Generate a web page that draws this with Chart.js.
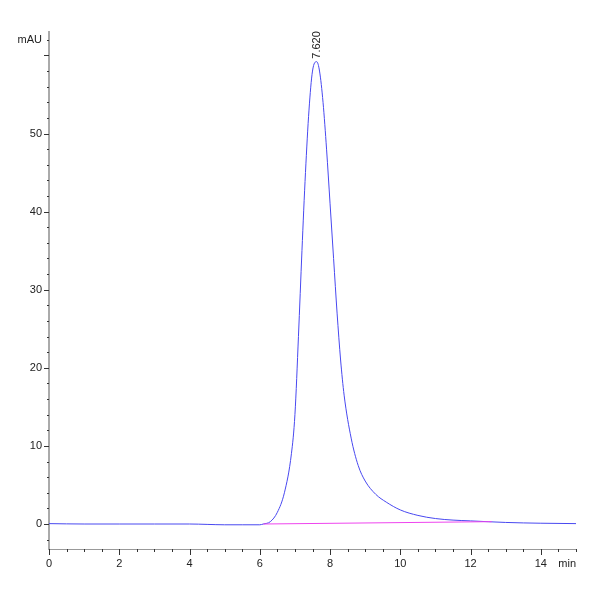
<!DOCTYPE html>
<html>
<head>
<meta charset="utf-8">
<script src="https://cdn.jsdelivr.net/npm/chart.js@4"></script>
<style>
  html, body { margin: 0; padding: 0; background: #fff; }
  #wrap { width: 600px; height: 600px; }
</style>
</head>
<body>
<div id="wrap"><canvas id="chart"></canvas></div>
<script>
// signal trace (min, mAU)
const signalTime = [0, 1, 2, 3, 4, 4.5, 5, 5.5, 6, 6.1, 6.3, 6.5, 6.7, 6.9, 7.0, 7.1, 7.2, 7.3, 7.4, 7.5, 7.62, 7.7, 7.8, 7.9, 8.0, 8.1, 8.2, 8.3, 8.4, 8.6, 8.8, 9.0, 9.3, 9.6, 10, 10.5, 11, 11.5, 12, 13, 14, 15];
const signalValue = [0.05, 0.0, 0.0, 0.0, 0.0, -0.05, -0.1, -0.1, -0.1, 0.0, 0.3, 1.5, 4, 9, 14, 24, 35, 45, 53, 58, 59.2, 58, 54, 48, 41, 34, 27, 21, 16.5, 11, 7.5, 5.5, 3.8, 2.8, 1.8, 1.1, 0.7, 0.5, 0.4, 0.2, 0.1, 0.05];
// integration baseline
const baseTime = [6.1, 12.6];
const baseValue = [0.0, 0.3];
const peakTime = 7.62;
const peakHeight = 59.2;
const peakLabel = '7.620';
const yLabels = [0, 10, 20, 30, 40, 50];
const xLabels = [0, 2, 4, 6, 8, 10, 12, 14];

const font = "'Liberation Sans Narrow', 'Liberation Sans', Arial, sans-serif";

const decorations = {
  id: 'decorations',
  afterDraw(chart) {
    const { ctx, scales: { x, y }, chartArea } = chart;
    ctx.save();
    ctx.strokeStyle = '#333';
    ctx.lineWidth = 1;
    // x ticks every 0.5 min
    for (let t = 0; t <= 15.001; t += 0.5) {
      const px = Math.round(x.getPixelForValue(t)) + 0.5;
      const len = Number.isInteger(t / 2) ? 6 : 3;
      ctx.beginPath();
      ctx.moveTo(px, chartArea.bottom);
      ctx.lineTo(px, chartArea.bottom + len);
      ctx.stroke();
    }
    // y ticks every 2 mAU
    for (let v = -2; v <= 62; v += 2) {
      const py = Math.round(y.getPixelForValue(v)) + 0.5;
      const len = v % 10 === 0 ? 5 : 2;
      ctx.beginPath();
      ctx.moveTo(chartArea.left - len, py);
      ctx.lineTo(chartArea.left, py);
      ctx.stroke();
    }
    ctx.fillStyle = '#222';
    ctx.font = '11px ' + font;
    ctx.textAlign = 'right';
    ctx.textBaseline = 'middle';
    yLabels.forEach(v => ctx.fillText(String(v), chartArea.left - 7, y.getPixelForValue(v)));
    ctx.fillText('mAU', chartArea.left - 7, y.getPixelForValue(62));
    ctx.textAlign = 'center';
    ctx.textBaseline = 'top';
    xLabels.forEach(v => ctx.fillText(String(v), x.getPixelForValue(v), chartArea.bottom + 9));
    ctx.fillText('min', x.getPixelForValue(14.75), chartArea.bottom + 9);
    // peak label, rotated
    ctx.translate(x.getPixelForValue(peakTime), y.getPixelForValue(peakHeight) - 3);
    ctx.rotate(-Math.PI / 2);
    ctx.textAlign = 'left';
    ctx.textBaseline = 'middle';
    ctx.fillText(peakLabel, 0, 0);
    ctx.restore();
  }
};

new Chart(document.getElementById('chart'), {
  type: 'line',
  data: {
    datasets: [
      {
        data: baseTime.map((t, i) => ({ x: t, y: baseValue[i] })),
        borderColor: '#ee44ee',
        borderWidth: 1,
        pointRadius: 0
      },
      {
        data: signalTime.map((t, i) => ({ x: t, y: signalValue[i] })),
        borderColor: '#4848f0',
        borderWidth: 1,
        pointRadius: 0,
        cubicInterpolationMode: 'monotone'
      }
    ]
  },
  options: {
    responsive: true,
    maintainAspectRatio: false,
    animation: false,
    layout: { padding: { top: 32, right: 24 } },
    plugins: { legend: { display: false }, tooltip: { enabled: false } },
    scales: {
      x: {
        type: 'linear', min: 0, max: 15,
        grid: { display: false },
        border: { color: '#999', width: 1 },
        ticks: { display: false },
        afterFit(s) { s.height = 51; }
      },
      y: {
        min: -3.2, max: 63,
        grid: { display: false },
        border: { color: '#aaa', width: 2 },
        ticks: { display: false },
        afterFit(s) { s.width = 49; }
      }
    }
  },
  plugins: [decorations]
});
</script>
</body>
</html>
